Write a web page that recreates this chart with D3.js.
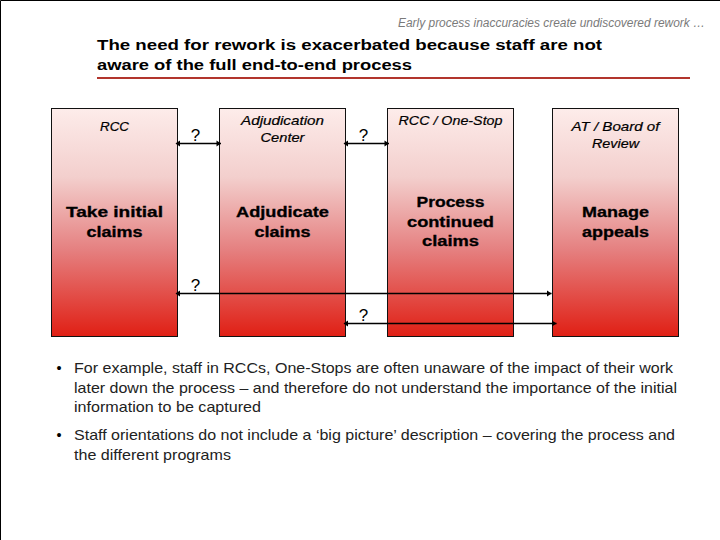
<!DOCTYPE html>
<html>
<head>
<meta charset="utf-8">
<script src="https://cdn.jsdelivr.net/npm/d3@7/dist/d3.min.js"></script>
<style>
  html, body { margin: 0; padding: 0; background: #fff; }
  svg { display: block; }
  text { font-family: "Liberation Sans", Arial, sans-serif; }
</style>
</head>
<body>
<script>
// process stages, left to right
const stages = ["rcc", "adjudication", "oneStop", "appeals"];
const owners = [["RCC"], ["Adjudication", "Center"], ["RCC / One-Stop"], ["AT / Board of", "Review"]];
const tasks = [
  ["Take initial", "claims"],
  ["Adjudicate", "claims"],
  ["Process", "continued", "claims"],
  ["Manage", "appeals"]
];
// which stages each "?" link joins
const links = [
  { from: "rcc", to: "adjudication", row: "top" },
  { from: "adjudication", to: "oneStop", row: "top" },
  { from: "rcc", to: "appeals", row: "mid" },
  { from: "adjudication", to: "appeals", row: "low" }
];
const header = "Early process inaccuracies create undiscovered rework …";
const titleLines = ["The need for rework is exacerbated because staff are not", "aware of the full end-to-end process"];
const bullets = [
  ["For example, staff in RCCs, One-Stops are often unaware of the impact of their work",
   "later down the process – and therefore do not understand the importance of the initial",
   "information to be captured"],
  ["Staff orientations do not include a ‘big picture’ description – covering the process and",
   "the different programs"]
];

const width = 720, height = 540;
const boxLeft = { rcc: 51.5, adjudication: 219.5, oneStop: 387.5, appeals: 552.5 };
const boxW = 126, boxTop = 108.5, boxBottom = 336.5;
const rowY = { top: 143.5, mid: 293.5, low: 323.5 };
const rowEnd = { top: 1.5, mid: -1, low: 4 };

// measured text widths, the original font runs wider than Liberation
const ownerWidths = [[29], [83, 44], [104], [88, 47]];
const ownerY = [131, 125, 125, 131];
const taskWidths = [[97, 56], [93, 56], [68, 87, 57], [67, 67]];
const titleWidths = [505, 315];
const bulletTop = [373, 440];
const bulletWidths = [[599, 603, 187], [601, 157]];

const svg = d3.select("body").append("svg")
    .attr("width", width)
    .attr("height", height);

const defs = svg.append("defs");
const grad = defs.append("linearGradient")
    .attr("id", "boxFill")
    .attr("x1", 0).attr("y1", 0).attr("x2", 0).attr("y2", 1);
grad.append("stop").attr("offset", "0%").attr("stop-color", "#fdecea");
grad.append("stop").attr("offset", "30%").attr("stop-color", "#f3cfcd");
grad.append("stop").attr("offset", "62%").attr("stop-color", "#e58080");
grad.append("stop").attr("offset", "100%").attr("stop-color", "#e01f14");

// frame of the slide: only top and left edges show
svg.append("path")
    .attr("d", `M0.5,${height}V0.5H${width}`)
    .attr("fill", "none")
    .attr("stroke", "#000")
    .attr("stroke-width", 1);

svg.append("text")
    .attr("x", 398).attr("y", 26.5)
    .attr("textLength", 307).attr("lengthAdjust", "spacingAndGlyphs")
    .attr("font-size", 12)
    .attr("font-style", "italic")
    .attr("fill", "#7a7a7a")
    .text(header);

svg.selectAll(".title").data(titleLines).enter().append("text")
    .attr("class", "title")
    .attr("x", 97)
    .attr("y", (d, i) => 50 + i * 19.5)
    .attr("textLength", (d, i) => titleWidths[i])
    .attr("lengthAdjust", "spacingAndGlyphs")
    .attr("font-size", 14.5)
    .attr("font-weight", "bold")
    .attr("fill", "#000")
    .text(d => d);

svg.append("line")
    .attr("x1", 97).attr("x2", 690)
    .attr("y1", 78).attr("y2", 78)
    .attr("stroke", "#b2352d")
    .attr("stroke-width", 2);

const box = svg.selectAll(".stage").data(stages).enter().append("g")
    .attr("class", "stage")
    .attr("transform", d => `translate(${boxLeft[d]},0)`);

box.append("rect")
    .attr("y", boxTop)
    .attr("width", boxW)
    .attr("height", boxBottom - boxTop)
    .attr("fill", "url(#boxFill)")
    .attr("stroke", "#111")
    .attr("stroke-width", 1);

box.each(function(d, i) {
  d3.select(this).selectAll(".owner").data(owners[i]).enter().append("text")
      .attr("class", "owner")
      .attr("x", boxW / 2)
      .attr("y", (t, j) => ownerY[i] + j * 17)
      .attr("text-anchor", "middle")
      .attr("textLength", (t, j) => ownerWidths[i][j])
      .attr("lengthAdjust", "spacingAndGlyphs")
      .attr("font-size", 13)
      .attr("font-style", "italic")
      .attr("fill", "#000")
      .attr("stroke", "#000")
      .attr("stroke-width", 0.2)
      .text(t => t);

  const taskY = tasks[i].length == 3 ? 207 : 217;
  d3.select(this).selectAll(".task").data(tasks[i]).enter().append("text")
      .attr("class", "task")
      .attr("x", boxW / 2)
      .attr("y", (t, j) => taskY + j * 19.5)
      .attr("text-anchor", "middle")
      .attr("textLength", (t, j) => taskWidths[i][j])
      .attr("lengthAdjust", "spacingAndGlyphs")
      .attr("font-size", 14)
      .attr("font-weight", "bold")
      .attr("fill", "#000")
      .attr("stroke", "#000")
      .attr("stroke-width", 0.3)
      .text(t => t);
});

// connectors with a small head at each end
function head(x, y, dir) {
  return `M${x},${y}L${x - dir * 4.5},${y - 3}V${y + 3}Z`;
}
const link = svg.selectAll(".link").data(links).enter().append("g").attr("class", "link");
link.each(function(d) {
  const x1 = boxLeft[d.from] + boxW - 1;
  const x2 = boxLeft[d.to] + rowEnd[d.row];
  const y = rowY[d.row];
  const g = d3.select(this);
  g.append("line")
      .attr("x1", x1).attr("x2", x2)
      .attr("y1", y).attr("y2", y)
      .attr("stroke", "#000")
      .attr("stroke-width", 1.6);
  g.append("path").attr("d", head(x1 - 1, y, -1)).attr("fill", "#000");
  g.append("path").attr("d", head(x2, y, 1)).attr("fill", "#000");
  g.append("text")
      .attr("x", x1 + 19)
      .attr("y", y - 2.5)
      .attr("text-anchor", "middle")
      .attr("font-size", 17)
      .attr("fill", "#000")
      .text("?");
});

bullets.forEach((lines, b) => {
  svg.append("text")
      .attr("x", 56.5).attr("y", bulletTop[b])
      .attr("font-size", 14.5)
      .attr("fill", "#000")
      .text("•");
  svg.selectAll(".bullet" + b).data(lines).enter().append("text")
      .attr("class", "bullet" + b)
      .attr("x", 74)
      .attr("y", (d, i) => bulletTop[b] + i * 19.5)
      .attr("textLength", (d, i) => bulletWidths[b][i])
      .attr("lengthAdjust", "spacingAndGlyphs")
      .attr("font-size", 14.5)
      .attr("fill", "#222")
      .text(d => d);
});
</script>
</body>
</html>
